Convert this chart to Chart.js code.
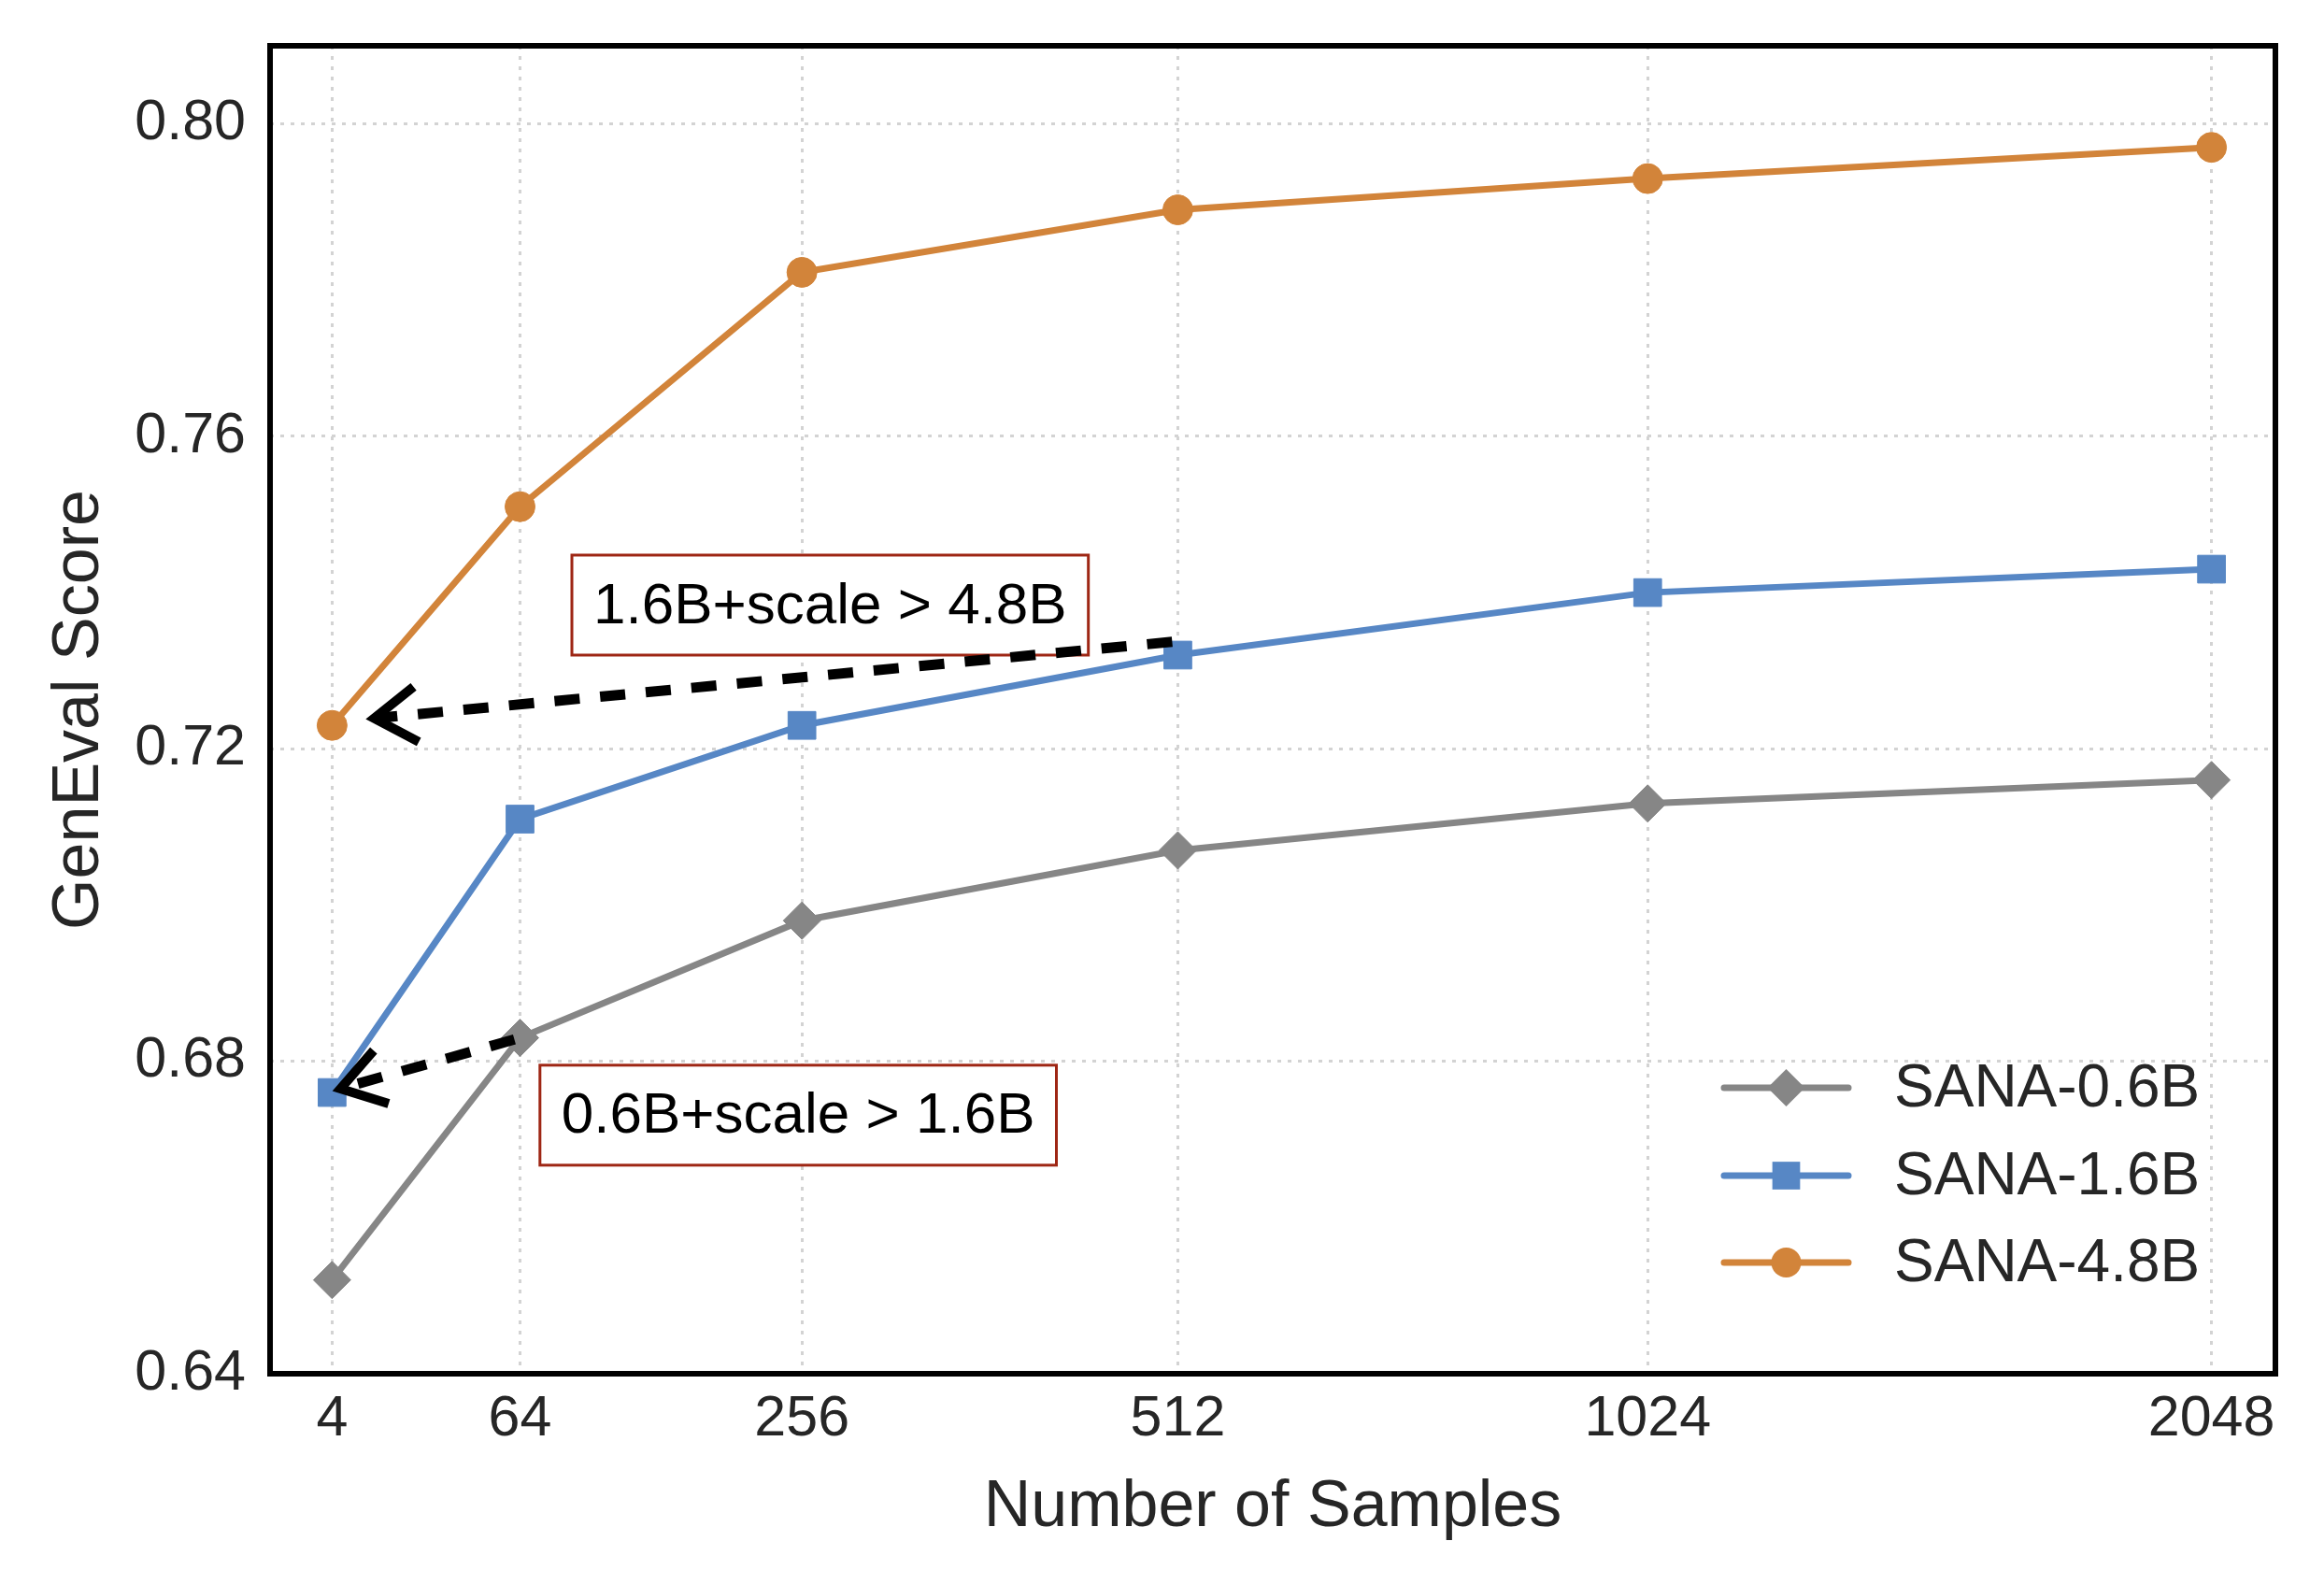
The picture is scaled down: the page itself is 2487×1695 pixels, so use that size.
<!DOCTYPE html>
<html>
<head>
<meta charset="utf-8">
<script src="https://cdn.jsdelivr.net/npm/chart.js@4.4.1/dist/chart.umd.min.js"></script>
<style>
  html, body { margin: 0; padding: 0; background: #fff; }
</style>
</head>
<body>
<canvas id="myChart" width="2487" height="1695"></canvas>
<script>
// x axis: sample counts and where each one sits on the (uneven) axis
var sampleLabels = ['4', '64', '256', '512', '1024', '2048'];
var samplePos = [0, 1, 2.5, 4.5, 7, 10];

// GenEval scores
var sana06 = [0.652, 0.683, 0.698, 0.707, 0.713, 0.716];
var sana16 = [0.676, 0.711, 0.723, 0.732, 0.740, 0.743];
var sana48 = [0.723, 0.751, 0.781, 0.789, 0.793, 0.797];

var seriesNames = ['SANA-0.6B', 'SANA-1.6B', 'SANA-4.8B'];
var yTicks = [0.64, 0.68, 0.72, 0.76, 0.80];

// annotation boxes + arrows, in data coordinates
var notes = [
    { text: '1.6B+scale > 4.8B', at: [2.65, 0.7384], from: [4.47, 0.7337], to: [0.224, 0.7239] },
    { text: '0.6B+scale > 1.6B', at: [2.48, 0.6731], from: [0.97, 0.6828], to: [0.045, 0.6765] }
];

var FONT = '"Liberation Sans", Arial, Helvetica, sans-serif';
var TEXT = '#262626';
var colors = ['#868686', '#5787c5', '#d2843a'];
var markers = ['rectRot', 'rect', 'circle'];
var markerRadius = [20, 21, 16];

function points(values) {
    return samplePos.map(function (x, i) {
        return { x: x, y: values[i] };
    });
}

function drawMarker(ctx, style, x, y, r) {
    ctx.beginPath();
    if (style === 'rectRot') {
        ctx.moveTo(x - r, y);
        ctx.lineTo(x, y - r);
        ctx.lineTo(x + r, y);
        ctx.lineTo(x, y + r);
        ctx.closePath();
    } else if (style === 'rect') {
        var s = r * Math.SQRT1_2;
        ctx.rect(x - s, y - s, 2 * s, 2 * s);
    } else {
        ctx.arc(x, y, r, 0, Math.PI * 2);
    }
    ctx.fill();
}

function drawArrow(ctx, x0, y0, x1, y1) {
    ctx.save();
    ctx.strokeStyle = '#000';
    ctx.lineWidth = 11;
    ctx.setLineDash([27, 22]);
    ctx.beginPath();
    ctx.moveTo(x0, y0);
    ctx.lineTo(x1, y1);
    ctx.stroke();
    // open arrow head at the tip
    var a = Math.atan2(y0 - y1, x0 - x1);
    var len = 54, spread = 0.58;
    ctx.setLineDash([]);
    ctx.lineWidth = 10;
    ctx.lineJoin = 'miter';
    ctx.beginPath();
    ctx.moveTo(x1 + len * Math.cos(a + spread), y1 + len * Math.sin(a + spread));
    ctx.lineTo(x1, y1);
    ctx.lineTo(x1 + len * Math.cos(a - spread), y1 + len * Math.sin(a - spread));
    ctx.stroke();
    ctx.restore();
}

var extras = {
    id: 'extras',
    afterDatasetsDraw: function (chart) {
        var ctx = chart.ctx;
        var area = chart.chartArea;
        var xs = chart.scales.x, ys = chart.scales.y;
        ctx.save();

        // annotation boxes, then arrows over them
        ctx.font = '62px ' + FONT;
        ctx.textAlign = 'center';
        ctx.textBaseline = 'middle';
        notes.forEach(function (n) {
            var cx = xs.getPixelForValue(n.at[0]);
            var cy = ys.getPixelForValue(n.at[1]);
            var w = ctx.measureText(n.text).width + 46;
            var h = 107;
            ctx.fillStyle = '#fff';
            ctx.fillRect(cx - w / 2, cy - h / 2, w, h);
            ctx.strokeStyle = '#9e2614';
            ctx.lineWidth = 3;
            ctx.strokeRect(cx - w / 2, cy - h / 2, w, h);
            ctx.fillStyle = '#000';
            ctx.fillText(n.text, cx, cy + 2);
        });
        notes.forEach(function (n) {
            drawArrow(ctx,
                xs.getPixelForValue(n.from[0]), ys.getPixelForValue(n.from[1]),
                xs.getPixelForValue(n.to[0]), ys.getPixelForValue(n.to[1]));
        });

        // legend (bottom right, no frame)
        var rows = [area.bottom - 306, area.bottom - 212, area.bottom - 119];
        var lx0 = area.right - 590, lx1 = area.right - 457;
        ctx.font = '64px ' + FONT;
        ctx.textAlign = 'left';
        ctx.textBaseline = 'middle';
        seriesNames.forEach(function (name, i) {
            var y = rows[i];
            ctx.strokeStyle = colors[i];
            ctx.fillStyle = colors[i];
            ctx.lineWidth = 7;
            ctx.lineCap = 'round';
            ctx.beginPath();
            ctx.moveTo(lx0, y);
            ctx.lineTo(lx1, y);
            ctx.stroke();
            drawMarker(ctx, markers[i], (lx0 + lx1) / 2, y, markerRadius[i]);
            ctx.fillStyle = TEXT;
            ctx.fillText(name, area.right - 408, y + 2);
        });

        // black frame round the plot
        ctx.strokeStyle = '#000';
        ctx.lineWidth = 6;
        ctx.lineCap = 'butt';
        ctx.strokeRect(area.left, area.top, area.right - area.left, area.bottom - area.top);

        // axis titles
        ctx.fillStyle = TEXT;
        ctx.font = '70px ' + FONT;
        ctx.textAlign = 'center';
        ctx.textBaseline = 'alphabetic';
        ctx.fillText('Number of Samples', (area.left + area.right) / 2, area.bottom + 163);
        ctx.save();
        ctx.translate(area.left - 184, (area.top + area.bottom) / 2);
        ctx.rotate(-Math.PI / 2);
        ctx.fillText('GenEval Score', 0, 0);
        ctx.restore();

        ctx.restore();
    }
};

var datasets = [sana06, sana16, sana48].map(function (vals, i) {
    return {
        label: seriesNames[i],
        data: points(vals),
        borderColor: colors[i],
        backgroundColor: colors[i],
        borderWidth: 7,
        pointStyle: markers[i],
        pointRadius: markerRadius[i],
        pointBorderWidth: 1,
        pointBackgroundColor: colors[i],
        pointBorderColor: colors[i],
        tension: 0,
        fill: false,
        clip: false
    };
});

var ctx = document.getElementById('myChart').getContext('2d');
var myChart = new Chart(ctx, {
    type: 'line',
    data: { datasets: datasets },
    options: {
        responsive: false,
        animation: false,
        events: [],
        layout: { autoPadding: false, padding: { top: 49, right: 52, left: 0, bottom: 0 } },
        plugins: {
            legend: { display: false },
            tooltip: { enabled: false }
        },
        scales: {
            x: {
                type: 'linear',
                min: -0.33,
                max: 10.34,
                afterBuildTicks: function (scale) {
                    scale.ticks = samplePos.map(function (v) { return { value: v }; });
                },
                afterFit: function (scale) {
                    scale.height = 225;
                    scale.paddingLeft = 0;
                    scale.paddingRight = 0;
                },
                ticks: {
                    autoSkip: false,
                    maxRotation: 0,
                    padding: 13,
                    color: TEXT,
                    font: { family: FONT, size: 61 },
                    callback: function (v) {
                        var i = samplePos.indexOf(v);
                        return i >= 0 ? sampleLabels[i] : '';
                    }
                },
                grid: { color: '#d3d3d3', lineWidth: 3, drawTicks: false, borderDash: [4, 7] },
                border: { display: false, dash: [4, 7] }
            },
            y: {
                min: 0.64,
                max: 0.81,
                afterBuildTicks: function (scale) {
                    scale.ticks = yTicks.map(function (v) { return { value: v }; });
                },
                afterFit: function (scale) {
                    scale.width = 289;
                    scale.paddingTop = 0;
                    scale.paddingBottom = 0;
                },
                ticks: {
                    padding: 26,
                    color: TEXT,
                    font: { family: FONT, size: 61 },
                    callback: function (v) { return v.toFixed(2); }
                },
                grid: { color: '#d3d3d3', lineWidth: 3, drawTicks: false, borderDash: [4, 7] },
                border: { display: false, dash: [4, 7] }
            }
        }
    },
    plugins: [extras]
});
</script>
</body>
</html>
